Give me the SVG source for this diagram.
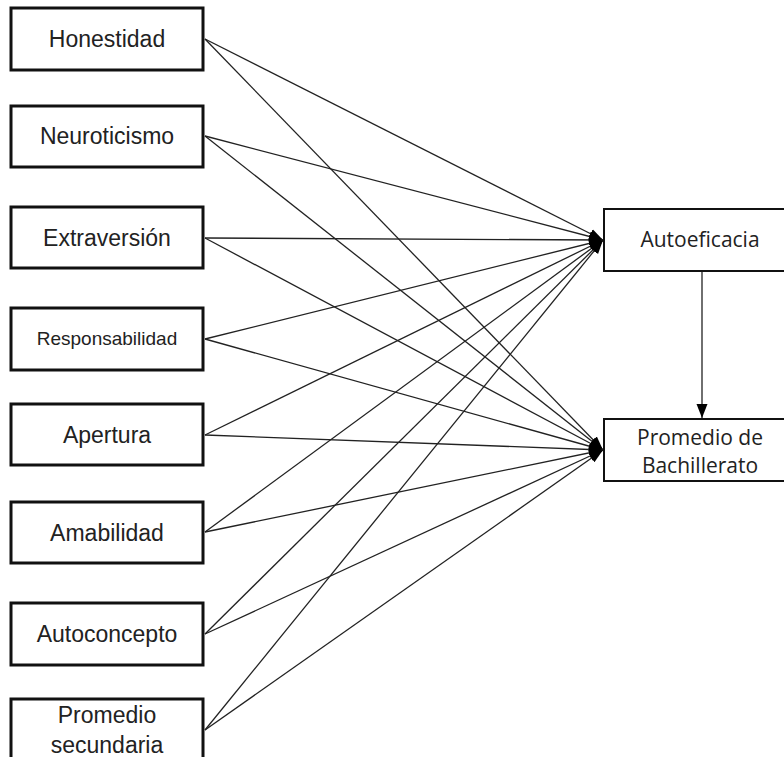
<svg xmlns="http://www.w3.org/2000/svg" width="784" height="757" viewBox="0 0 784 757">
<defs>
<style>
.lb{fill:#fff;stroke:#111;stroke-width:3}
.rb{fill:#fff;stroke:#111;stroke-width:2}
.lt{font-family:"Liberation Sans",Arial,sans-serif;font-size:23px;fill:#222;text-anchor:middle}
.rt{font-family:"Open Sans","Noto Sans",sans-serif;font-size:21px;fill:#222;text-anchor:middle}
.c{stroke:#222;stroke-width:1.3;fill:none;marker-end:url(#ah)}
</style>
<marker id="ah" markerUnits="userSpaceOnUse" markerWidth="14" markerHeight="14" viewBox="0 0 14 14" refX="14" refY="7" orient="auto">
<path d="M0,2 L14,7 L0,12 Z" fill="#000"/>
</marker>
<marker id="ah2" markerUnits="userSpaceOnUse" markerWidth="14" markerHeight="14" viewBox="0 0 14 14" refX="14" refY="7" orient="auto">
<path d="M0,1.5 L14,7 L0,12.5 Z" fill="#000"/>
</marker>
</defs>
<rect width="784" height="757" fill="#fff"/>
<g id="connectors">
<line class="c" x1="205" y1="39" x2="603" y2="240"/>
<line class="c" x1="205" y1="39" x2="603" y2="450"/>
<line class="c" x1="205" y1="136" x2="603" y2="240"/>
<line class="c" x1="205" y1="136" x2="603" y2="450"/>
<line class="c" x1="205" y1="238" x2="603" y2="240"/>
<line class="c" x1="205" y1="238" x2="603" y2="450"/>
<line class="c" x1="205" y1="339" x2="603" y2="240"/>
<line class="c" x1="205" y1="339" x2="603" y2="450"/>
<line class="c" x1="205" y1="435" x2="603" y2="240"/>
<line class="c" x1="205" y1="435" x2="603" y2="450"/>
<line class="c" x1="205" y1="532" x2="603" y2="240"/>
<line class="c" x1="205" y1="532" x2="603" y2="450"/>
<line class="c" x1="205" y1="634" x2="603" y2="240"/>
<line class="c" x1="205" y1="634" x2="603" y2="450"/>
<line class="c" x1="205" y1="730" x2="603" y2="240"/>
<line class="c" x1="205" y1="730" x2="603" y2="450"/>
<line x1="702" y1="271" x2="702" y2="418" stroke="#222" stroke-width="1.3" marker-end="url(#ah2)"/>
</g>
<g id="honestidad"><rect class="lb" x="11" y="8" width="192" height="62"/><text class="lt" x="107" y="47">Honestidad</text></g>
<g id="neuroticismo"><rect class="lb" x="11" y="106" width="192" height="61"/><text class="lt" x="107" y="144">Neuroticismo</text></g>
<g id="extraversion"><rect class="lb" x="11" y="207" width="192" height="61"/><text class="lt" x="107" y="246">Extraversión</text></g>
<g id="responsabilidad"><rect class="lb" x="11" y="308" width="192" height="62"/><text class="lt" x="107" y="345" style="font-size:19px">Responsabilidad</text></g>
<g id="apertura"><rect class="lb" x="11" y="404" width="192" height="61"/><text class="lt" x="107" y="443">Apertura</text></g>
<g id="amabilidad"><rect class="lb" x="11" y="502" width="192" height="61"/><text class="lt" x="107" y="541">Amabilidad</text></g>
<g id="autoconcepto"><rect class="lb" x="11" y="603" width="192" height="62"/><text class="lt" x="107" y="642">Autoconcepto</text></g>
<g id="promedio-secundaria"><rect class="lb" x="11" y="699" width="192" height="62"/><text class="lt" x="107" y="723">Promedio</text><text class="lt" x="107" y="753">secundaria</text></g>
<g id="autoeficacia"><rect class="rb" x="604" y="209" width="190" height="62"/><text class="rt" x="700" y="247">Autoeficacia</text></g>
<g id="promedio-bachillerato"><rect class="rb" x="604" y="419" width="190" height="62"/><text class="rt" x="700" y="445">Promedio de</text><text class="rt" x="700" y="473">Bachillerato</text></g>
</svg>
